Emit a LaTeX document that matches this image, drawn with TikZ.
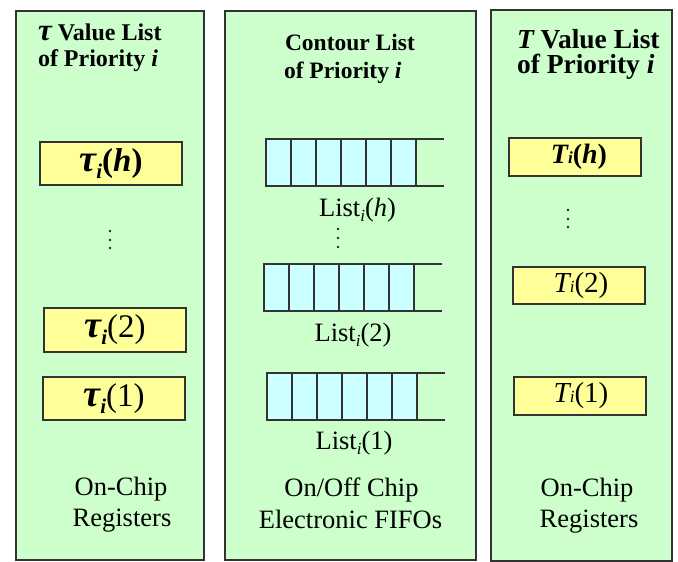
\documentclass[tikz,border=0pt]{standalone}
\usepackage{fontspec}
\setmainfont{Liberation Serif}
\definecolor{panelgreen}{HTML}{CCFFCC}
\definecolor{regyellow}{HTML}{FFFF99}
\definecolor{cellcyan}{HTML}{CCFFFF}
\definecolor{edge}{HTML}{333333}
\tikzset{
  panel/.style={draw=edge, line width=1.3pt, fill=panelgreen, inner sep=0pt, outer sep=0pt, anchor=north west},
  regbox/.style={draw=edge, line width=1.1pt, fill=regyellow, inner sep=0pt, outer sep=0pt},
  cell/.style={draw=edge, line width=1.2pt, fill=cellcyan, inner sep=0pt, outer sep=0pt,
    minimum width=25pt, minimum height=47pt, anchor=north west},
  txt/.style={inner sep=0pt, outer sep=0pt},
  dotmark/.style={circle, fill=black!85, inner sep=0pt, minimum size=2.8pt},
  fifoline/.style={draw=edge, line width=1.2pt}
}
\newcommand{\ttl}[1]{\fontsize{#1}{#1}\selectfont\bfseries}
\newcommand{\body}{\fontsize{26.5}{28}\selectfont}
\newcommand{\tausub}{\raisebox{-7pt}{\fontsize{21}{21}\selectfont\bfseries\itshape i}}
\begin{document}
\begin{tikzpicture}[x=1pt, y=-1pt]
\useasboundingbox (0,0) rectangle (678,562);

% three storage panels
\node[panel, minimum width=188pt, minimum height=549pt] (lpanel) at (16,11) {};
\node[panel, minimum width=251pt, minimum height=549pt] (mpanel) at (225,11) {};
\node[panel, minimum width=181pt, minimum height=551pt] (rpanel) at (491,10) {};

% panel headings
\node[txt, anchor=base west] (lt1) at (38,40) {\ttl{24}{\fontsize{31}{31}\selectfont\itshape τ}\ Value List};
\node[txt, anchor=base west] (lt2) at (38,66) {\ttl{24}of Priority \itshape i};
\node[txt, anchor=base west] (mt1) at (285,50) {\ttl{23.5}Contour List};
\node[txt, anchor=base west] (mt2) at (284,78) {\ttl{23.5}of Priority \itshape i};
\node[txt, anchor=base west] (rt1) at (517,48) {\ttl{27.5}\itshape T\upshape\ Value List};
\node[txt, anchor=base west] (rt2) at (517,73) {\ttl{27.5}of Priority \itshape i};

% tau registers
\node[regbox, minimum width=142pt, minimum height=43pt] (tauh) at (111,163.5)
  {\fontsize{33}{34}\selectfont\bfseries{\fontsize{38}{38}\selectfont\itshape τ}\tausub(\textit{h})};
\node[regbox, minimum width=142pt, minimum height=44pt] (tau2) at (115,330)
  {\fontsize{33}{34}\selectfont{\bfseries\fontsize{38}{38}\selectfont\itshape τ}\tausub(2)};
\node[regbox, minimum width=142pt, minimum height=43pt] (tau1) at (114,398.5)
  {\fontsize{33}{34}\selectfont{\bfseries\fontsize{38}{38}\selectfont\itshape τ}\tausub(1)};

% T registers
\node[regbox, minimum width=132pt, minimum height=38pt] (Th) at (575,157)
  {\hspace*{8pt}\fontsize{28}{30}\selectfont\bfseries\itshape T{\fontsize{17}{17}\selectfont i}\upshape(\textit{h})};
\node[regbox, minimum width=132pt, minimum height=37pt] (T2) at (579,285.5)
  {\hspace*{4pt}\fontsize{29}{30}\selectfont\itshape T{\fontsize{17}{17}\selectfont i}\upshape(2)};
\node[regbox, minimum width=132pt, minimum height=38pt] (T1) at (580,396)
  {\hspace*{2pt}\fontsize{29}{30}\selectfont\itshape T{\fontsize{17}{17}\selectfont i}\upshape(1)};

% FIFOs: six filled cells and an open tail
\foreach \nm/\xo/\yt in {fh/266/139, ftwo/264/264, fone/267/373} {
  \foreach \k in {1,...,6} {
    \node[cell] (\nm c\k) at ({\xo+25*(\k-1)},\yt) {};
  }
  \coordinate (\nm tailtop) at ({\xo+178},\yt);
  \coordinate (\nm tailbot) at ({\xo+178},{\yt+47});
  \draw[fifoline] (\nm c6.north east) -- (\nm tailtop);
  \draw[fifoline] (\nm c6.south east) -- (\nm tailbot);
}
\node[txt, anchor=base] (lh) at (357.5,216) {\body List\raisebox{-5pt}{\fontsize{17}{17}\selectfont\itshape i}(\textit{h})};
\node[txt, anchor=base] (l2) at (353,341) {\body List\raisebox{-5pt}{\fontsize{17}{17}\selectfont\itshape i}(2)};
\node[txt, anchor=base] (l1) at (354,449) {\body List\raisebox{-5pt}{\fontsize{17}{17}\selectfont\itshape i}(1)};

% vertical ellipses
\foreach \y [count=\n] in {231,240,248} \node[dotmark] (ld\n) at (110,\y) {};
\foreach \y [count=\n] in {229,238,247} \node[dotmark] (md\n) at (338,\y) {};
\foreach \y [count=\n] in {210,219,227} \node[dotmark] (rd\n) at (568,\y) {};

% storage technology captions
\node[txt, anchor=base] (lc1) at (121,495) {\body On-Chip};
\node[txt, anchor=base] (lc2) at (122,526) {\body Registers};
\node[txt, anchor=base] (mc1) at (351.5,496) {\body On/Off Chip};
\node[txt, anchor=base] (mc2) at (350.5,528) {\body Electronic FIFOs};
\node[txt, anchor=base] (rc1) at (587,496) {\body On-Chip};
\node[txt, anchor=base] (rc2) at (589,527) {\body Registers};
\end{tikzpicture}
\end{document}
